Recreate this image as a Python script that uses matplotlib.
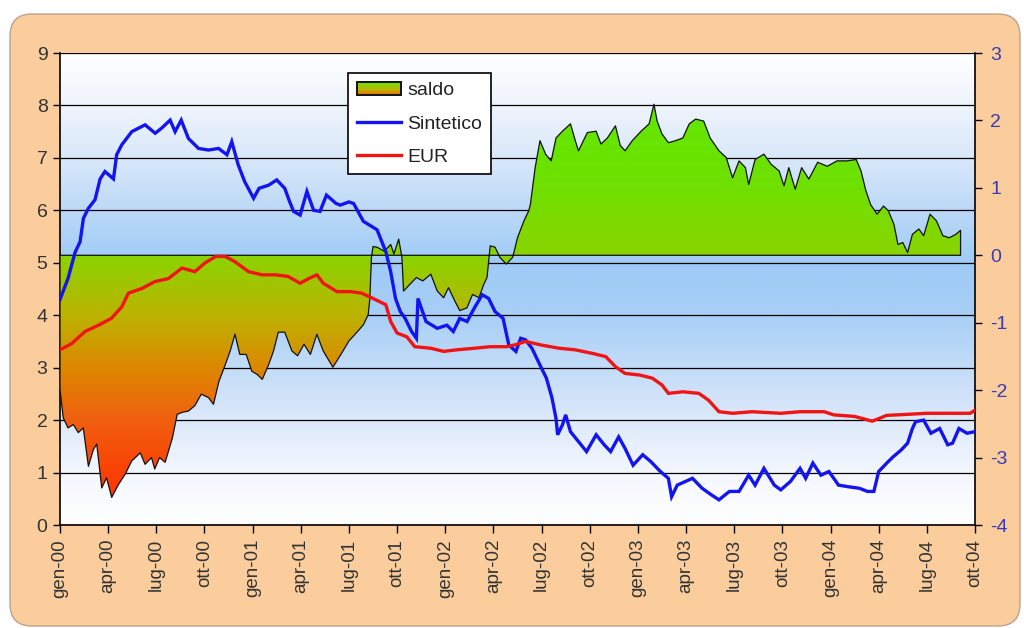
import numpy as np
import matplotlib
matplotlib.use("Agg")
import matplotlib.pyplot as plt
from matplotlib.colors import LinearSegmentedColormap, Normalize
from matplotlib.patches import FancyBboxPatch, Rectangle
from matplotlib.legend_handler import HandlerBase
import matplotlib.transforms as mtransforms

plt.rcParams['font.family'] = ['Liberation Sans', 'DejaVu Sans']
plt.rcParams['axes.unicode_minus'] = False

# ---------------- data (x = months since gen-00) ----------------
tick_labels = ["gen-00", "apr-00", "lug-00", "ott-00", "gen-01", "apr-01", "lug-01", "ott-01",
               "gen-02", "apr-02", "lug-02", "ott-02", "gen-03", "apr-03", "lug-03", "ott-03",
               "gen-04", "apr-04", "lug-04", "ott-04"]
tick_months = [3 * i for i in range(len(tick_labels))]

sint_m = [0.0, 0.5, 0.94, 1.25, 1.46, 1.77, 2.18, 2.5, 2.8, 3.33, 3.53, 3.85, 4.47, 5.3, 5.93, 6.34,
          6.86, 7.17, 7.55, 8.0, 8.63, 9.25, 9.88, 10.4, 10.7, 11.1, 11.5, 12.06, 12.4, 13.0, 13.5,
          14.0, 14.3, 14.55, 14.96, 15.38, 15.8, 16.2, 16.6, 17.2, 17.46, 18.0, 18.29, 18.9, 19.75,
          20.3, 20.6, 20.9, 21.2, 21.5, 21.9, 22.2, 22.3, 22.8, 23.5, 24.1, 24.5, 24.9, 25.36, 25.8,
          26.3, 26.7, 27.1, 27.6, 27.96, 28.4, 28.7, 29.0, 29.4, 29.9, 30.3, 30.65, 30.9, 31.0, 31.3,
          31.5, 31.8, 32.3, 32.8, 33.4, 33.9, 34.3, 34.8, 35.2, 35.7, 36.3, 36.8, 37.4, 37.9, 38.1,
          38.45, 38.97, 39.4, 40.0, 40.6, 41.05, 41.7, 42.3, 42.9, 43.3, 43.85, 44.5, 44.9, 45.5,
          46.1, 46.45, 46.9, 47.4, 47.9, 48.5, 49.1, 49.8, 50.3, 50.7, 51.0, 51.5, 51.9, 52.4, 52.8,
          53.1, 53.3, 53.8, 54.25, 54.8, 55.3, 55.6, 56.0, 56.5, 57.0]
sint_v = [4.30, 4.70, 5.20, 5.40, 5.85, 6.04, 6.20, 6.60, 6.74, 6.60, 7.06, 7.25, 7.50, 7.63, 7.47, 7.57,
          7.72, 7.50, 7.72, 7.37, 7.18, 7.15, 7.18, 7.06, 7.31, 6.87, 6.55, 6.23, 6.42, 6.48, 6.58,
          6.42, 6.17, 5.98, 5.91, 6.36, 6.00, 5.98, 6.29, 6.13, 6.10, 6.16, 6.13, 5.79, 5.63,
          5.21, 4.83, 4.32, 4.07, 3.94, 3.69, 3.56, 4.32, 3.88, 3.75, 3.81, 3.69, 3.94, 3.88, 4.13,
          4.39, 4.32, 4.07, 3.94, 3.43, 3.31, 3.56, 3.53, 3.37, 3.05, 2.80, 2.42, 2.03, 1.72, 1.91,
          2.10, 1.78, 1.59, 1.40, 1.72, 1.53, 1.40, 1.68, 1.46, 1.14, 1.34, 1.21, 1.02, 0.89, 0.54,
          0.76, 0.83, 0.89, 0.70, 0.57, 0.48, 0.64, 0.64, 0.95, 0.76, 1.08, 0.76, 0.67, 0.83,
          1.08, 0.89, 1.18, 0.95, 1.02, 0.76, 0.73, 0.70, 0.64, 0.64, 1.02, 1.18, 1.30, 1.43, 1.56,
          1.84, 1.97, 2.00, 1.75, 1.84, 1.53, 1.56, 1.84, 1.75, 1.78]

eur_m = [0.0, 0.73, 1.56, 2.4, 3.2, 3.85, 4.26, 5.1, 5.9, 6.76, 7.6, 8.4, 9.0, 9.7, 10.3, 10.9, 11.75,
         12.6, 13.4, 14.2, 14.96, 15.5, 16.0, 16.4, 17.25, 18.1, 18.8, 19.5, 20.3, 20.6, 21.0, 21.6,
         22.1, 23.1, 23.9, 24.7, 25.8, 26.8, 27.85, 28.4, 29.0, 30.0, 31.1, 32.1, 33.2, 34.0, 34.6,
         35.2, 36.1, 36.9, 37.5, 37.9, 38.8, 39.8, 40.4, 41.05, 41.9, 43.1, 44.9, 46.1, 47.6, 48.2,
         49.5, 50.6, 51.5, 52.8, 54.0, 55.7, 56.7, 57.0]
eur_v = [3.34, 3.46, 3.69, 3.81, 3.94, 4.16, 4.42, 4.51, 4.64, 4.70, 4.90, 4.83, 4.99, 5.12, 5.12, 5.02, 4.83,
         4.77, 4.77, 4.74, 4.61, 4.70, 4.77, 4.61, 4.45, 4.45, 4.42, 4.32, 4.20, 3.88, 3.66, 3.59,
         3.40, 3.37, 3.31, 3.34, 3.37, 3.40, 3.40, 3.44, 3.50, 3.43, 3.37, 3.34, 3.27, 3.21, 3.02,
         2.89, 2.86, 2.80, 2.67, 2.51, 2.54, 2.51, 2.38, 2.16, 2.13, 2.16, 2.13, 2.16, 2.16, 2.10,
         2.07, 1.98, 2.09, 2.11, 2.13, 2.13, 2.13, 2.19]

saldo_m = [0.0, 0.2, 0.5, 0.83, 1.14, 1.45, 1.77, 2.08, 2.29, 2.6, 2.9, 3.22, 3.64, 4.05, 4.47, 5.0,
           5.3, 5.7, 5.9, 6.2, 6.55, 7.0, 7.3, 7.6, 8.0, 8.4, 8.8, 9.25, 9.56, 9.9, 10.3, 10.6, 10.9,
           11.2, 11.6, 11.95, 12.3, 12.6, 13.0, 13.3, 13.6, 14.0, 14.45, 14.8, 15.2, 15.6, 16.0, 16.4,
           17.0, 17.5, 18.0, 18.5, 18.9, 19.2, 19.3, 19.4, 19.5, 19.75, 20.2, 20.6, 20.8, 21.1, 21.3,
           21.4, 21.8, 22.2, 22.6, 23.1, 23.5, 23.9, 24.2, 24.6, 24.9, 25.35, 25.7, 26.1, 26.4, 26.6,
           26.8, 27.1, 27.4, 27.8, 28.2, 28.5, 28.9, 29.2, 29.3, 29.6, 29.9, 30.25, 30.6, 30.9, 31.3,
           31.8, 32.1, 32.3, 32.85, 33.4, 33.7, 34.1, 34.6, 34.9, 35.2, 35.65, 36.2, 36.7, 37.0, 37.2,
           37.5, 37.9, 38.35, 38.8, 39.2, 39.6, 40.1, 40.5, 41.05, 41.5, 41.9, 42.3, 42.7, 42.9, 43.3,
           43.85, 44.3, 44.8, 45.1, 45.4, 45.8, 46.2, 46.65, 47.2, 47.8, 48.4, 49.0, 49.6, 49.9, 50.2,
           50.5, 50.9, 51.3, 51.6, 51.95, 52.2, 52.5, 52.8, 53.1, 53.5, 53.8, 54.2, 54.6, 55.0, 55.4,
           55.8, 56.1]
saldo_r = [-1.99, -2.41, -2.56, -2.51, -2.63, -2.56, -3.13, -2.88, -2.80, -3.45, -3.30, -3.59, -3.40,
           -3.25, -3.05, -2.93, -3.10, -3.00, -3.17, -3.00, -3.07, -2.71, -2.36, -2.33, -2.31, -2.23,
           -2.06, -2.11, -2.21, -1.87, -1.62, -1.42, -1.17, -1.47, -1.47, -1.72, -1.77, -1.84, -1.62,
           -1.42, -1.14, -1.14, -1.42, -1.49, -1.32, -1.47, -1.17, -1.42, -1.66, -1.47, -1.27, -1.14,
           -1.03, -0.88, -0.65, -0.03, 0.13, 0.12, 0.06, 0.16, 0.02, 0.24, -0.03, -0.53, -0.43, -0.33,
           -0.38, -0.28, -0.53, -0.63, -0.48, -0.68, -0.82, -0.78, -0.58, -0.63, -0.43, -0.33, 0.14,
           0.12, -0.03, -0.13, -0.03, 0.26, 0.51, 0.66, 0.75, 1.30, 1.70, 1.50, 1.40, 1.74, 1.84, 1.95,
           1.70, 1.55, 1.82, 1.84, 1.65, 1.74, 1.92, 1.63, 1.55, 1.70, 1.84, 1.95, 2.24, 1.99, 1.80,
           1.67, 1.70, 1.74, 1.95, 2.02, 1.99, 1.74, 1.55, 1.45, 1.15, 1.40, 1.30, 1.05, 1.42, 1.50,
           1.35, 1.25, 1.03, 1.30, 0.98, 1.30, 1.13, 1.38, 1.32, 1.40, 1.40, 1.42, 1.25, 0.96, 0.75,
           0.61, 0.73, 0.66, 0.46, 0.16, 0.19, 0.04, 0.31, 0.39, 0.29, 0.61, 0.51, 0.29, 0.26, 0.31,
           0.37]

left_ticks = list(range(0, 10))
right_ticks = list(range(-4, 4))

# ---------------- styling ----------------
bg_cmap = LinearSegmentedColormap.from_list("bg", [
    (0 / 9, "#ffffff"), (1 / 9, "#f3f7fe"), (2 / 9, "#dce9fa"), (3 / 9, "#c2dcf8"),
    (4 / 9, "#a8cff6"), (5 / 9, "#9ecbf6"), (6 / 9, "#bcd9f7"), (7 / 9, "#d9e8fa"),
    (8 / 9, "#eef4fc"), (9 / 9, "#ffffff")])


def rpos(r):
    return (r + 4) / 7.0


saldo_cmap = LinearSegmentedColormap.from_list("saldo", [
    (rpos(-4.0), "#ff2a00"), (rpos(-3.6), "#ff3300"), (rpos(-2.44), "#f06010"),
    (rpos(-1.66), "#dd8800"), (rpos(-0.88), "#bbb400"), (rpos(0.0), "#8ad400"),
    (rpos(1.0), "#70e000"), (rpos(2.3), "#60e800"), (rpos(3.0), "#60e800")])

W, H = 1024, 628
fig = plt.figure(figsize=(W / 100, H / 100), dpi=100)
fig.patch.set_facecolor("white")
frame = FancyBboxPatch((10, 2), 1010, 612, boxstyle="round,pad=0,rounding_size=22",
                       transform=mtransforms.IdentityTransform(),
                       facecolor="#fbcd9d", edgecolor="#b9a48e", lw=1.0, zorder=-10)
fig.patches.append(frame)

pos = [60 / W, 1 - 525 / H, 915 / W, 472 / H]
ax = fig.add_axes(pos)
ax.imshow(np.linspace(0, 9, 256).reshape(-1, 1), extent=[0, 57, 0, 9], origin="lower",
          aspect="auto", cmap=bg_cmap, norm=Normalize(0, 9), interpolation="bilinear", zorder=0)
ax.set_xlim(0, 57)
ax.set_ylim(0, 9)
ax.set_yticks(left_ticks)
ax.grid(axis="y", color="black", lw=0.9)
ax.set_axisbelow("line")
ax.set_xticks(tick_months)
ax.set_xticklabels(tick_labels, rotation=90)
ax.tick_params(axis="x", direction="out", length=6, width=1, pad=4, labelsize=13.5, labelcolor="#333333")
ax.tick_params(axis="y", direction="out", length=5, width=1, pad=4, labelsize=14, labelcolor="#333333")
for s in ["top", "right"]:
    ax.spines[s].set_visible(False)
for s in ["left", "bottom"]:
    ax.spines[s].set_color("black")
    ax.spines[s].set_linewidth(1.2)

# saldo on right axis
ax_s = ax.twinx()
ax_s.set_zorder(1)
ax.set_zorder(0)
poly = ax_s.fill_between(saldo_m, 0, saldo_r, facecolor="none", edgecolor="#111111", lw=0.9, zorder=3)
img = ax_s.imshow(np.linspace(-4, 3, 256).reshape(-1, 1), extent=[0, 57, -4, 3], origin="lower",
                  aspect="auto", cmap=saldo_cmap, norm=Normalize(-4, 3), interpolation="bilinear", zorder=2)
img.set_clip_path(poly.get_paths()[0], transform=ax_s.transData)
ax_s.set_xlim(0, 57)
ax_s.set_ylim(-4, 3)
ax_s.set_yticks(right_ticks)
ax_s.tick_params(axis="y", direction="out", length=5, width=1, pad=6, labelsize=14, labelcolor="#3a3ab4")
for s in ["top", "left", "bottom"]:
    ax_s.spines[s].set_visible(False)
ax_s.spines["right"].set_color("black")
ax_s.spines["right"].set_linewidth(1.2)

# lines on their own layer on top
ax_l = fig.add_axes(pos, sharex=ax, sharey=ax)
ax_l.set_axis_off()
ax_l.set_zorder(2)
l1, = ax_l.plot(sint_m, sint_v, color="#1414f0", lw=2.4, solid_joinstyle="miter")
l2, = ax_l.plot(eur_m, eur_v, color="#f01414", lw=2.4, solid_joinstyle="miter")
ax_l.set_xlim(0, 57)
ax_l.set_ylim(0, 9)


class SaldoProxy:
    pass


class GradHandler(HandlerBase):
    def create_artists(self, legend, orig_handle, xdescent, ydescent, width, height, fontsize, trans):
        arts = []
        n = 12
        h = height * 0.95
        y0 = -ydescent + (height - h) / 2
        for i in range(n):
            frac = (i + 0.5) / n
            col = saldo_cmap(rpos(-2.2 + 3.0 * frac))
            arts.append(Rectangle((-xdescent, y0 + h * i / n), width, h / n + 0.3,
                                  facecolor=col, edgecolor="none", transform=trans))
        arts.append(Rectangle((-xdescent, y0), width, h, facecolor="none",
                              edgecolor="#111111", lw=1.4, transform=trans))
        return arts


leg = ax_l.legend([SaldoProxy(), l1, l2], ["saldo", "Sintetico", "EUR"],
                  handler_map={SaldoProxy: GradHandler()},
                  loc="upper left", bbox_to_anchor=((348 - 60) / 915, (525 - 73) / 472),
                  fontsize=14, frameon=True, fancybox=False, framealpha=1, edgecolor="black",
                  handlelength=2.3, handletextpad=0.3, labelspacing=0.8, borderpad=0.45,
                  borderaxespad=0)
leg.get_frame().set_linewidth(1.2)
for t in leg.get_texts():
    t.set_color("#222222")

fig.savefig("out.png", dpi=100, facecolor=fig.get_facecolor())
